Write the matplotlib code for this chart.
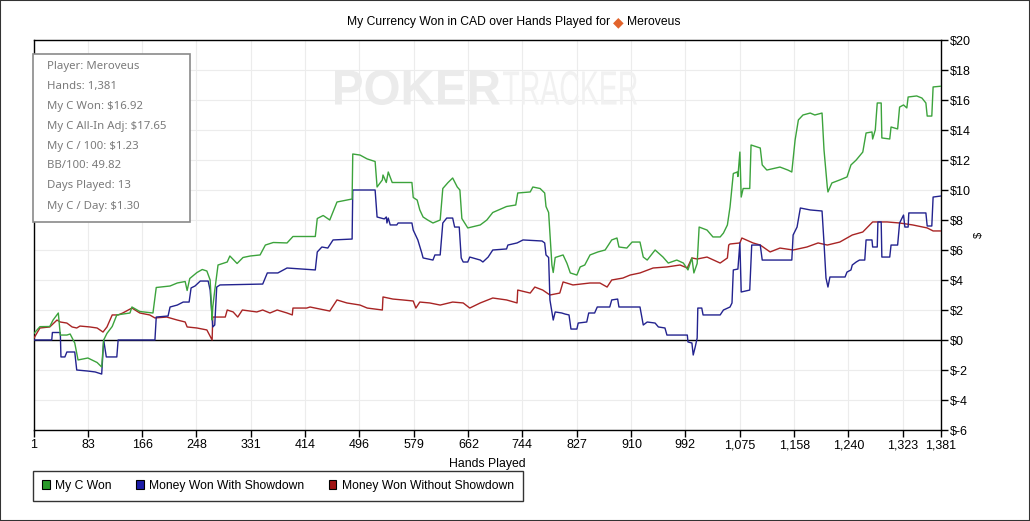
import matplotlib
matplotlib.use("Agg")
import matplotlib.pyplot as plt
from matplotlib.patches import Patch, Rectangle, PathPatch
from matplotlib.textpath import TextPath
from matplotlib.font_manager import FontProperties
from matplotlib.transforms import Affine2D, IdentityTransform
from matplotlib.ticker import FixedLocator, FuncFormatter

# hands played vs cumulative winnings
won_hands = [1, 10, 25, 30, 38, 41, 51, 56, 63, 68, 83, 97, 104, 107, 112, 120, 127, 147, 150, 162,
             182, 187, 208, 219, 231, 234, 238, 249, 257, 264, 269, 272, 273, 276, 281, 295, 299, 310,
             319, 330, 345, 353, 365, 386, 395, 429, 432, 441, 451, 462, 477, 485, 486, 497, 508, 520,
             523, 531, 532, 537, 540, 546, 576, 578, 584, 588, 593, 600, 608, 619, 623, 631, 638, 645,
             649, 652, 661, 680, 690, 699, 720, 734, 737, 756, 760, 771, 778, 780, 784, 789, 791, 794,
             806, 812, 817, 827, 832, 839, 847, 859, 870, 880, 888, 891, 903, 911, 923, 928, 934, 946,
             958, 966, 979, 989, 996, 1002, 1005, 1010, 1013, 1025, 1034, 1045, 1050, 1056, 1060, 1065,
             1071, 1072, 1075, 1077, 1080, 1090, 1092, 1106, 1109, 1116, 1136, 1148, 1154, 1159, 1164,
             1171, 1182, 1189, 1200, 1203, 1208, 1209, 1215, 1227, 1238, 1244, 1252, 1262, 1267, 1276,
             1277, 1281, 1284, 1290, 1291, 1303, 1305, 1315, 1318, 1324, 1329, 1331, 1344, 1352, 1358,
             1360, 1367, 1369, 1381]
won_vals = [0.44, 0.89, 0.9, 1.33, 1.8, 0.33, 0.33, 0.4, -0.2, -1.33, -1.2, -1.5, -1.8, 0.0, 0.44, 0.9,
            1.67, 1.8, 2.2, 1.9, 1.8, 3.5, 3.6, 3.8, 3.9, 3.3, 4.1, 4.5, 4.7, 4.6, 4.0, 1.33, 2.2, 3.3,
            5.0, 5.2, 5.6, 5.1, 5.5, 5.6, 5.67, 6.33, 6.5, 6.47, 6.9, 6.9, 8.1, 8.3, 8.0, 9.2, 9.33, 9.4,
            12.4, 12.33, 12.07, 11.9, 10.2, 10.67, 11.0, 10.5, 11.2, 10.5, 10.5, 9.5, 9.33, 8.67, 8.2,
            8.0, 7.8, 8.0, 10.1, 10.5, 10.8, 10.2, 10.0, 8.1, 7.47, 7.67, 8.0, 8.5, 8.9, 9.0, 9.8, 9.87,
            10.2, 10.1, 9.8, 8.9, 8.5, 5.0, 4.5, 5.5, 5.67, 5.1, 4.47, 4.33, 4.87, 5.0, 5.67, 5.87, 6.0,
            6.67, 6.8, 6.2, 6.13, 6.53, 6.53, 5.53, 5.33, 6.0, 5.53, 5.13, 5.33, 5.13, 4.67, 5.47, 4.47,
            5.1, 7.53, 7.33, 6.87, 6.87, 7.13, 7.67, 8.87, 11.1, 11.2, 10.9, 12.53, 9.53, 10.1, 10.1,
            13.0, 12.8, 11.67, 11.33, 11.53, 11.33, 11.2, 13.33, 14.67, 15.0, 15.13, 15.0, 15.13, 12.67,
            10.2, 9.87, 10.47, 10.67, 10.87, 11.67, 12.0, 12.53, 13.8, 13.87, 13.4, 14.0, 15.8, 15.8,
            13.47, 13.4, 14.2, 14.07, 15.53, 15.67, 15.47, 16.2, 16.27, 16.13, 15.8, 14.93, 14.93,
            16.87, 16.92]

sd_hands = [1, 28, 29, 41, 42, 48, 51, 63, 66, 83, 94, 104, 107, 111, 127, 129, 185, 187, 205, 208,
            219, 228, 237, 240, 246, 254, 266, 269, 273, 276, 279, 284, 349, 356, 372, 386, 429, 432,
            439, 448, 456, 485, 486, 520, 523, 534, 537, 538, 540, 543, 553, 555, 576, 578, 585, 591,
            593, 608, 611, 619, 623, 629, 638, 641, 648, 651, 654, 661, 664, 680, 684, 692, 699, 720,
            722, 736, 745, 774, 778, 780, 784, 786, 791, 794, 804, 809, 815, 818, 827, 829, 842, 845,
            854, 858, 877, 880, 889, 891, 923, 928, 934, 946, 951, 961, 964, 995, 996, 1002, 1004, 1007,
            1010, 1011, 1017, 1019, 1045, 1050, 1060, 1063, 1065, 1072, 1075, 1077, 1090, 1093, 1106,
            1109, 1154, 1156, 1162, 1167, 1182, 1200, 1203, 1206, 1209, 1212, 1235, 1238, 1244, 1246,
            1252, 1257, 1265, 1267, 1276, 1277, 1284, 1285, 1290, 1291, 1303, 1305, 1315, 1318, 1324,
            1326, 1331, 1332, 1358, 1360, 1367, 1369, 1381]
sd_vals = [0.0, 0.0, 0.5, 0.5, -1.13, -1.13, -0.8, -0.8, -2.0, -2.07, -2.13, -2.27, 0.0, -1.13, -1.13,
           0.0, 0.0, 1.53, 1.6, 2.2, 2.33, 2.53, 2.53, 3.47, 3.6, 3.93, 3.93, 3.33, 0.87, 1.0, 3.53,
           3.67, 3.73, 4.47, 4.47, 4.8, 4.67, 5.87, 6.2, 6.13, 6.67, 6.73, 10.0, 10.0, 8.2, 8.07, 8.2,
           7.8, 8.13, 7.67, 7.67, 7.8, 7.8, 7.33, 6.67, 5.8, 5.47, 5.33, 5.67, 5.67, 7.8, 8.13, 8.13,
           7.53, 7.53, 5.47, 5.2, 5.2, 5.53, 5.33, 5.2, 5.53, 6.0, 6.07, 6.33, 6.47, 6.67, 6.6, 6.47,
           5.67, 5.5, 2.67, 1.33, 1.87, 1.8, 1.73, 1.67, 0.73, 0.73, 1.13, 1.2, 1.8, 1.8, 2.2, 2.2,
           2.67, 2.73, 2.2, 2.2, 1.0, 1.2, 1.13, 0.87, 0.8, 0.33, 0.33, -0.13, -0.2, -1.0, -0.47, 0.13,
           2.13, 2.13, 1.67, 1.67, 2.0, 2.2, 2.47, 4.67, 4.73, 6.47, 3.2, 3.33, 6.33, 6.33, 5.33, 5.33,
           7.0, 7.53, 8.8, 8.67, 8.6, 6.47, 4.13, 3.53, 4.2, 4.2, 4.53, 4.67, 5.0, 5.2, 5.33, 5.33,
           6.67, 6.67, 6.2, 6.2, 7.87, 7.87, 5.53, 5.53, 6.33, 6.33, 7.8, 8.33, 7.53, 7.53, 8.47, 8.47,
           7.6, 7.6, 9.53, 9.6]

nsd_hands = [1, 10, 25, 36, 41, 51, 59, 66, 71, 86, 97, 106, 112, 120, 129, 136, 150, 162, 177, 185,
             203, 219, 231, 234, 249, 264, 272, 273, 292, 295, 304, 311, 318, 340, 349, 360, 371, 386,
             394, 395, 416, 421, 451, 462, 477, 497, 508, 531, 532, 547, 562, 578, 582, 588, 603, 619,
             638, 654, 664, 680, 699, 720, 736, 737, 756, 763, 775, 786, 801, 806, 821, 847, 862, 873,
             880, 897, 908, 923, 943, 964, 984, 995, 1002, 1010, 1025, 1045, 1056, 1058, 1060, 1075,
             1078, 1095, 1106, 1121, 1136, 1156, 1177, 1194, 1208, 1227, 1246, 1262, 1277, 1299, 1318,
             1338, 1360, 1369, 1381]
nsd_vals = [0.13, 0.8, 0.87, 1.33, 1.2, 1.13, 0.87, 0.8, 0.93, 0.87, 0.8, 0.53, 0.87, 1.67, 1.67, 1.8,
            2.13, 1.8, 1.67, 1.47, 1.53, 1.33, 1.2, 0.87, 0.8, 0.67, 0.0, 1.53, 1.53, 2.0, 1.87, 1.53,
            2.0, 1.87, 2.0, 1.8, 2.0, 1.8, 1.67, 2.13, 2.13, 2.2, 1.93, 2.67, 2.47, 2.33, 2.13, 2.0,
            2.87, 2.73, 2.67, 2.6, 2.13, 2.53, 2.47, 2.33, 2.53, 2.47, 2.13, 2.47, 2.8, 2.67, 2.47, 3.33,
            3.13, 3.53, 3.33, 3.0, 3.13, 3.87, 3.67, 3.8, 3.8, 3.53, 4.0, 4.13, 4.33, 4.47, 4.8, 4.87,
            5.0, 4.8, 5.47, 5.4, 5.53, 5.13, 5.47, 6.33, 6.4, 6.47, 6.8, 6.47, 6.33, 5.87, 6.13, 6.0,
            6.2, 6.47, 6.33, 6.53, 7.0, 7.2, 7.87, 7.87, 7.8, 7.67, 7.47, 7.27, 7.27]

x_ticks = [1, 83, 166, 248, 331, 414, 496, 579, 662, 744, 827, 910, 992, 1075, 1158, 1240, 1323, 1381]
y_ticks = list(range(-6, 21, 2))
series_names = ["My C Won", "Money Won With Showdown", "Money Won Without Showdown"]
stats_lines = ["Player: Meroveus", "Hands: 1,381", "My C Won: $16.92", "My C All-In Adj: $17.65",
               "My C / 100: $1.23", "BB/100: 49.82", "Days Played: 13", "My C / Day: $1.30"]

line_colors = ["#3ca33c", "#23238f", "#a82424"]
box_colors = ["#2a9a2a", "#1c1ca8", "#a01414"]
sans = ["Liberation Sans", "DejaVu Sans"]

W, H = 1030, 521
fig = plt.figure(figsize=(W / 100, H / 100), dpi=100)
ax = fig.add_axes([34 / W, 1 - 430 / H, (941 - 34) / W, (430 - 40) / H])


def squeezed_text(s, box, color, weight="normal"):
    # draw text stretched into a pixel box (x0, y0 from top, x1, y1)
    x0, y0, x1, y1 = box
    tp = TextPath((0, 0), s, size=1, prop=FontProperties(family=sans, weight=weight))
    ext = tp.get_extents()
    sx = (x1 - x0) / ext.width
    sy = (y1 - y0) / ext.height
    tr = Affine2D().translate(-ext.x0, -ext.y0).scale(sx, sy).translate(x0, H - y1)
    fig.patches.append(PathPatch(tp, transform=tr + IdentityTransform(), facecolor=color,
                                 edgecolor="none", zorder=1))


ax.plot(nsd_hands, nsd_vals, color=line_colors[2], lw=1.0, zorder=3)
ax.plot(sd_hands, sd_vals, color=line_colors[1], lw=1.0, zorder=4)
ax.plot(won_hands, won_vals, color=line_colors[0], lw=1.0, zorder=5)
ax.axhline(0, color="black", lw=1.0, zorder=2)

ax.set_xlim(1, 1381)
ax.set_ylim(-6, 20)
ax.xaxis.set_major_locator(FixedLocator(x_ticks))
ax.xaxis.set_major_formatter(FuncFormatter(lambda v, p: f"{int(v):,}"))
ax.yaxis.set_major_locator(FixedLocator(y_ticks))
ax.yaxis.set_major_formatter(FuncFormatter(lambda v, p: f"${int(v)}"))
ax.yaxis.tick_right()
ax.yaxis.set_label_position("right")
ax.tick_params(direction="out", length=5, width=1, colors="black", labelsize=9, pad=1.5)
for lab in ax.get_xticklabels() + ax.get_yticklabels():
    lab.set_family(sans)
ax.grid(True, color="#ececec", lw=0.8, zorder=0)
ax.set_facecolor("none")
for sp in ax.spines.values():
    sp.set_color("black")
    sp.set_linewidth(1.0)

ax.set_xlabel("Hands Played", family=sans, fontsize=8.8, labelpad=5)
ax.set_ylabel("$", family=sans, fontsize=8, labelpad=2, rotation=90)

# watermark behind the plot
squeezed_text("POKER", (335, 70, 500, 105), "#ebebeb", weight="bold")
squeezed_text("TRACKER", (503, 71, 637, 105), "#f1f1f1")

# stats box
fig.patches.append(Rectangle((33 / W, 1 - 222 / H), 157 / W, 168 / H, transform=fig.transFigure,
                             facecolor="white", edgecolor="#8a8a8a", lw=1.2, zorder=6))
for i, s in enumerate(stats_lines):
    fig.text(47 / W, 1 - (66 + 20 * i) / H, s, family=["Noto Sans", "DejaVu Sans"], fontsize=8.2,
             color="#7a7a7a", va="center", ha="left", zorder=7)

# title
fig.text(610 / W, 1 - 22 / H, "My Currency Won in CAD over Hands Played for", family=sans,
         fontsize=8.7, ha="right", va="center")
fig.text(618 / W, 1 - 22 / H, "\u25c6", family="DejaVu Sans", fontsize=10, color="#e2642c",
         ha="center", va="center")
fig.text(627 / W, 1 - 22 / H, "Meroveus", family=sans, fontsize=8.7, ha="left", va="center")

# legend
handles = [Patch(facecolor=c, edgecolor="black", lw=0.8) for c in box_colors]
leg = fig.legend(handles, series_names, loc="upper left", bbox_to_anchor=(33 / W, 1 - 471 / H),
                 ncol=3, frameon=True, fancybox=False, edgecolor="black", handlelength=0.65,
                 handleheight=0.8, handletextpad=0.45, columnspacing=2.0, borderpad=0.75,
                 borderaxespad=0, prop={"family": sans, "size": 8.7})
leg.get_frame().set_linewidth(1.0)

fig.patches.append(Rectangle((0, 0), 1, 1, transform=fig.transFigure, fill=False,
                             edgecolor="#333333", lw=1.5))
fig.savefig("out.png", dpi=100)
